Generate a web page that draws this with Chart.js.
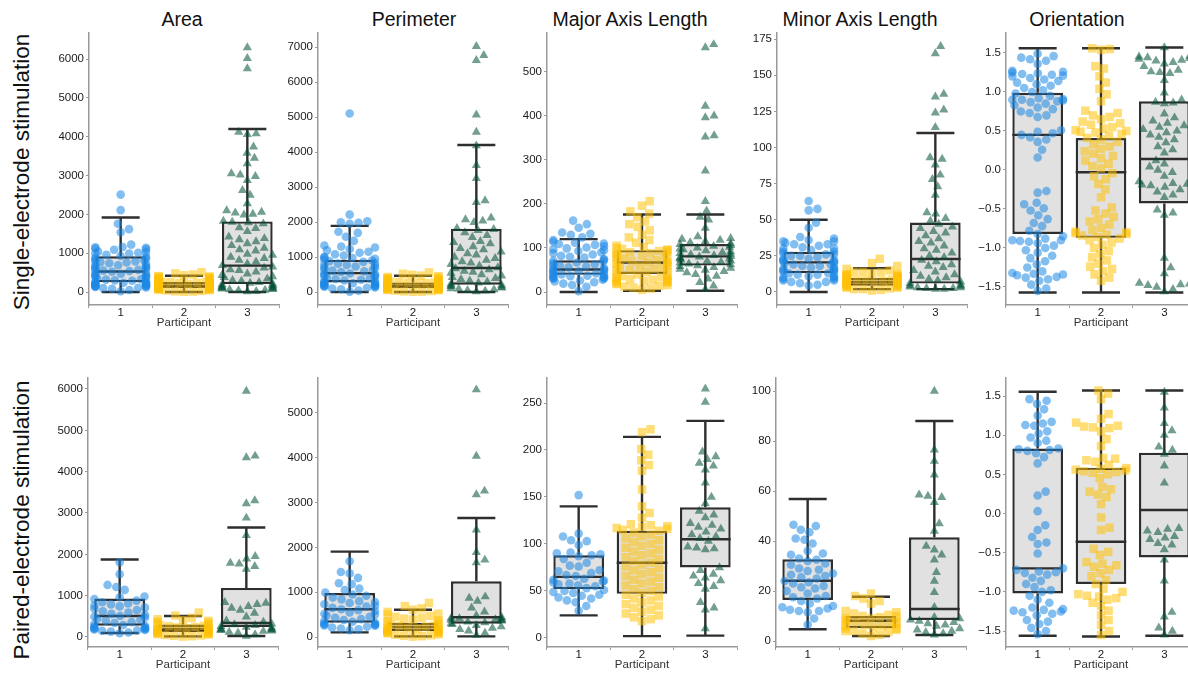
<!DOCTYPE html>
<html>
<head>
<meta charset="utf-8">
<script src="https://cdn.jsdelivr.net/npm/chart.js@4.4.1/dist/chart.umd.min.js"></script>
<style>
  html, body { margin: 0; padding: 0; background: #fff; width: 1188px; height: 673px; overflow: hidden; }
  canvas { position: absolute; }
  .coltitle { position: absolute; top: 8px; font-family: 'Liberation Sans', Arial, sans-serif; font-size: 19.5px; line-height: 23px; color: #111; white-space: nowrap; transform: translateX(-50%); }
  .rowtitle { position: absolute; font-family: 'Liberation Sans', Arial, sans-serif; font-size: 22.5px; line-height: 26px; color: #111; white-space: nowrap; transform: translate(-50%, -50%) rotate(-90deg); }
</style>
</head>
<body>
<script>
const participants = [1, 2, 3];
const columnTitles = ['Area', 'Perimeter', 'Major Axis Length', 'Minor Axis Length', 'Orientation'];
const rowTitles = ['Single-electrode stimulation', 'Paired-electrode stimulation'];

// y tick values per panel
const areaTicksSingle = [0, 1000, 2000, 3000, 4000, 5000, 6000];
const perimeterTicksSingle = [0, 1000, 2000, 3000, 4000, 5000, 6000, 7000];
const majorTicksSingle = [0, 100, 200, 300, 400, 500];
const minorTicksSingle = [0, 25, 50, 75, 100, 125, 150, 175];
const orientTicks = [-1.5, -1.0, -0.5, 0.0, 0.5, 1.0, 1.5];
const areaTicksPaired = [0, 1000, 2000, 3000, 4000, 5000, 6000];
const perimeterTicksPaired = [0, 1000, 2000, 3000, 4000, 5000];
const majorTicksPaired = [0, 50, 100, 150, 200, 250];
const minorTicksPaired = [0, 20, 40, 60, 80, 100];

// box stats per participant: [lower whisker, q1, median, q3, upper whisker]
const singleAreaBox = [[0, 250, 530, 920, 1920], [0, 100, 160, 260, 420], [0, 205, 680, 1820, 4200]];
const singlePerimeterBox = [[0, 275, 540, 925, 1890], [0, 105, 180, 275, 465], [0, 210, 685, 1810, 4200]];
const singleMajorBox = [[0, 39, 51, 72, 120], [3, 41, 67, 95, 176], [3, 60, 81, 109, 176]];
const singleMinorBox = [[0, 12.9, 20.5, 27.9, 50], [2, 4.4, 6.9, 9.7, 16.4], [2, 5.8, 22.8, 48.1, 110]];
const singleOrientBox = [[-1.57, -0.82, 0.45, 0.99, 1.56], [-1.57, -0.87, -0.03, 0.41, 1.56], [-1.57, -0.43, 0.14, 0.88, 1.57]];
const pairedAreaBox = [[97, 275, 509, 929, 1874], [16, 121, 194, 300, 509], [24, 240, 340, 1187, 2650]];
const pairedPerimeterBox = [[104, 320, 618, 982, 1905], [15, 134, 223, 320, 610], [15, 298, 440, 1243, 2656]];
const pairedMajorBox = [[24, 52, 65, 88, 140], [2, 47, 80, 114, 214], [2.5, 75, 105, 139, 231]];
const pairedMinorBox = [[4.7, 16.4, 24.1, 32.7, 56.8], [2, 5.1, 8.1, 10, 17.7], [2.4, 8.4, 12.8, 41.5, 88]];
const pairedOrientBox = [[-1.56, -1.02, -0.70, 0.83, 1.555], [-1.57, -0.90, -0.36, 0.585, 1.57], [-1.56, -0.56, 0.045, 0.777, 1.57]];

// single-electrode, individual values
const singleAreaP1 = [2510, 2110, 1760, 1620, 1540, 1220, 1160, 1150, 1140, 1120, 1100, 1090, 1040, 1020, 1010, 1000, 990, 960, 930, 900, 880, 860, 850, 820, 800, 790, 770, 760, 740, 720, 700, 690, 670, 650, 630, 620, 600, 590, 570, 550, 540, 520, 500, 490, 470, 450, 430, 420, 400, 380, 370, 350, 330, 320, 300, 290, 270, 260, 250, 240, 230, 220, 210, 200, 190, 180, 170, 160, 150, 150, 140, 130, 120, 110, 100, 80, 50, 20];
const singleAreaP2 = [510, 480, 450, 430, 410, 400, 390, 380, 360, 350, 340, 330, 320, 310, 300, 290, 280, 270, 265, 260, 250, 240, 235, 230, 220, 210, 205, 200, 190, 185, 180, 175, 170, 165, 160, 155, 150, 145, 140, 135, 130, 125, 120, 115, 110, 105, 100, 95, 90, 85, 80, 75, 70, 60, 50, 40, 30, 20, 10, 5];
const singleAreaP3 = [6300, 6020, 5760, 4120, 4080, 4060, 3740, 3580, 3450, 3310, 3050, 3020, 2980, 2880, 2620, 2500, 2280, 2100, 2060, 2040, 2010, 1990, 1830, 1800, 1790, 1760, 1660, 1640, 1560, 1420, 1380, 1350, 1300, 1250, 1200, 1130, 1090, 1060, 980, 950, 900, 870, 820, 780, 730, 690, 650, 620, 580, 560, 520, 470, 430, 400, 380, 340, 300, 280, 250, 230, 210, 190, 170, 150, 140, 120, 110, 100, 90, 80, 70, 60, 50, 40, 20, 10];

const singlePerimeterP1 = [5100, 2210, 2020, 1990, 1980, 1950, 1720, 1690, 1580, 1460, 1330, 1300, 1270, 1230, 1190, 1150, 1120, 1080, 1040, 1000, 990, 970, 950, 930, 900, 880, 860, 830, 810, 790, 770, 750, 730, 700, 680, 660, 640, 610, 590, 570, 550, 530, 500, 490, 470, 450, 430, 410, 390, 370, 350, 330, 310, 300, 280, 260, 250, 240, 220, 210, 200, 190, 180, 170, 160, 150, 130, 120, 100, 80, 40, 10];
const singlePerimeterP2 = [560, 520, 490, 470, 450, 430, 410, 400, 380, 370, 350, 340, 320, 310, 300, 290, 280, 270, 260, 250, 240, 230, 220, 215, 205, 200, 190, 185, 175, 170, 165, 155, 150, 145, 140, 130, 125, 120, 110, 105, 100, 90, 85, 80, 70, 60, 50, 40, 30, 20, 10, 5];
const singlePerimeterP3 = [7020, 6760, 6620, 5060, 4570, 4180, 3620, 3250, 2610, 2560, 2120, 2070, 2030, 1990, 1820, 1790, 1760, 1700, 1620, 1560, 1450, 1420, 1380, 1300, 1250, 1210, 1150, 1100, 1060, 1000, 960, 910, 870, 830, 790, 750, 700, 670, 640, 600, 570, 540, 500, 460, 420, 390, 360, 320, 290, 260, 230, 200, 180, 160, 140, 120, 100, 90, 70, 50, 30, 10];

const singleMajorP1 = [162, 154, 146, 135, 132, 130, 124, 118, 114, 112, 110, 109, 107, 104, 101, 99, 97, 95, 93, 90, 88, 85, 82, 80, 78, 75, 73, 71, 69, 67, 65, 63, 61, 60, 58, 56, 54, 53, 51, 50, 48, 47, 45, 44, 42, 41, 40, 38, 37, 36, 35, 34, 33, 32, 31, 30, 28, 26, 24, 22, 19, 16, 12, 2];
const singleMajorP2 = [206, 196, 183, 178, 170, 160, 154, 148, 140, 130, 124, 118, 112, 105, 102, 100, 98, 96, 95, 93, 91, 90, 88, 86, 84, 82, 80, 78, 76, 74, 72, 70, 68, 67, 65, 63, 61, 60, 58, 56, 54, 52, 50, 48, 46, 44, 42, 40, 38, 36, 34, 32, 30, 29, 28, 27, 26, 25, 24, 23, 22, 20, 18, 16, 14, 12, 10, 8, 5];
const singleMajorP3 = [562, 555, 422, 400, 396, 355, 352, 275, 206, 184, 170, 164, 145, 126, 122, 120, 118, 115, 112, 110, 108, 106, 104, 102, 100, 98, 96, 94, 92, 90, 88, 86, 85, 83, 81, 80, 78, 76, 75, 73, 71, 70, 68, 66, 64, 62, 60, 58, 56, 54, 52, 50, 47, 44, 40, 36, 30, 22, 14, 6];

const singleMinorP1 = [63, 57.5, 56.5, 48, 44.5, 38, 37, 36, 35, 35, 34, 33, 33, 32, 31, 30, 30, 29, 28, 28, 27, 26, 26, 25, 25, 24, 23, 23, 22, 22, 21, 21, 20, 20, 19, 19, 18, 18, 17, 17, 16, 16, 15, 15, 14, 14, 13, 13, 12, 12, 11, 11, 10, 10, 9, 9, 8, 8, 7, 7, 6, 5, 4.5];
const singleMinorP2 = [23, 20, 18, 16, 15, 14, 14, 13.5, 13, 12.5, 12, 12, 11.5, 11, 11, 10.5, 10, 10, 9.5, 9, 9, 8.5, 8, 8, 7.5, 7, 7, 6.5, 6, 6, 5.5, 5, 5, 4.5, 4, 4, 3.5, 3, 3, 2.5, 2, 2, 1.5, 1];
const singleMinorP3 = [170, 165, 137, 135, 126, 124, 114, 93, 92, 88, 81, 78, 73, 67, 55, 54, 51, 49, 47, 45, 44, 42, 41, 39, 37, 35, 34, 32, 30, 29, 27, 25, 24, 22, 21, 19, 18, 17, 15, 14, 12, 11, 10, 9, 8, 7, 6, 5, 4.5, 4, 3.5, 3, 3, 2.5, 2.5, 2, 2];

const singleOrientP1 = [1.49, 1.46, 1.44, 1.42, 1.40, 1.36, 1.27, 1.26, 1.25, 1.24, 1.23, 1.22, 1.21, 1.20, 1.18, 1.16, 1.14, 1.12, 1.10, 1.08, 1.05, 1.02, 1.00, 0.98, 0.95, 0.92, 0.91, 0.90, 0.90, 0.89, 0.88, 0.87, 0.85, 0.83, 0.80, 0.78, 0.75, 0.73, 0.70, 0.68, 0.51, 0.49, 0.47, 0.45, 0.42, 0.39, 0.36, 0.26, 0.16, -0.27, -0.29, -0.42, -0.44, -0.49, -0.52, -0.58, -0.63, -0.68, -0.72, -0.78, -0.82, -0.85, -0.88, -0.90, -0.90, -0.91, -0.92, -0.94, -0.97, -1.00, -1.03, -1.06, -1.10, -1.13, -1.17, -1.21, -1.25, -1.30, -1.32, -1.33, -1.34, -1.35, -1.37, -1.38, -1.40, -1.42, -1.47, -1.52, -1.55];
const singleOrientP2 = [1.56, 1.55, 1.54, 1.33, 1.30, 1.20, 1.12, 1.04, 0.97, 0.88, 0.76, 0.73, 0.70, 0.68, 0.65, 0.62, 0.60, 0.58, 0.55, 0.53, 0.51, 0.50, 0.49, 0.48, 0.46, 0.44, 0.41, 0.39, 0.36, 0.33, 0.30, 0.27, 0.24, 0.21, 0.18, 0.15, 0.12, 0.08, 0.05, 0.02, -0.04, -0.08, -0.12, -0.18, -0.25, -0.35, -0.48, -0.52, -0.56, -0.60, -0.63, -0.66, -0.70, -0.74, -0.77, -0.79, -0.80, -0.81, -0.82, -0.83, -0.84, -0.86, -0.88, -0.90, -0.93, -0.96, -1.00, -1.04, -1.08, -1.12, -1.16, -1.20, -1.24, -1.27, -1.30, -1.34, -1.38, -1.42];
const singleOrientP3 = [1.57, 1.46, 1.45, 1.44, 1.43, 1.42, 1.41, 1.40, 1.38, 1.36, 1.33, 1.28, 1.26, 1.25, 1.24, 1.15, 0.99, 0.90, 0.87, 0.86, 0.85, 0.72, 0.67, 0.63, 0.60, 0.57, 0.55, 0.52, 0.50, 0.48, 0.45, 0.42, 0.39, 0.35, 0.30, 0.26, 0.22, 0.12, 0.08, 0.04, 0.00, -0.03, -0.08, -0.15, -0.17, -0.18, -0.19, -0.20, -0.22, -0.25, -0.28, -0.32, -0.35, -0.51, -0.55, -0.58, -1.13, -1.25, -1.33, -1.45, -1.46, -1.47, -1.48, -1.50, -1.53, -1.56];

// paired-electrode, individual values
const pairedAreaP1 = [1810, 1520, 1260, 1210, 1140, 980, 960, 920, 880, 840, 810, 790, 760, 740, 710, 680, 650, 620, 590, 560, 530, 510, 490, 470, 440, 410, 390, 360, 340, 310, 290, 270, 250, 230, 220, 210, 200, 190, 180, 170, 160, 150, 130, 110, 90];
const pairedAreaP2 = [590, 520, 460, 430, 410, 390, 370, 350, 330, 310, 290, 270, 260, 240, 230, 210, 200, 190, 180, 170, 160, 150, 140, 130, 120, 110, 100, 90, 80, 70, 60, 50, 40, 30, 20, 10];
const pairedAreaP3 = [5950, 4380, 4340, 3300, 3230, 2880, 2460, 1950, 1890, 1790, 1770, 1710, 1640, 840, 820, 790, 740, 700, 650, 580, 490, 390, 360, 320, 300, 280, 260, 240, 220, 200, 190, 180, 170, 160, 150, 140, 120, 100, 60, 20];

const pairedPerimeterP1 = [1690, 1450, 1420, 1320, 1200, 1180, 1080, 1050, 990, 950, 920, 880, 840, 800, 780, 760, 730, 700, 680, 650, 620, 600, 580, 550, 520, 500, 480, 450, 430, 400, 380, 360, 340, 320, 300, 290, 280, 270, 260, 250, 230, 210, 190, 170, 150];
const pairedPerimeterP2 = [760, 690, 640, 610, 560, 520, 500, 470, 450, 430, 410, 390, 370, 350, 330, 310, 290, 270, 250, 240, 230, 210, 200, 190, 180, 170, 160, 150, 140, 130, 120, 110, 100, 90, 80, 60, 50, 40, 30, 20, 10];
const pairedPerimeterP3 = [5520, 4040, 3260, 3180, 2390, 1890, 1720, 1660, 900, 870, 800, 650, 560, 480, 440, 420, 410, 400, 390, 380, 370, 360, 340, 320, 300, 280, 260, 230, 200, 170, 140, 90, 40];

const pairedMajorP1 = [152, 111, 108, 104, 103, 99, 91, 90, 89, 88, 87, 84, 80, 77, 76, 72, 71, 69, 67, 66, 63, 62, 61, 60, 59, 58, 57, 56, 55, 53, 51, 50, 49, 48, 46, 45, 43, 42, 40, 38, 34, 29];
const pairedMajorP2 = [222, 219, 201, 195, 189, 184, 178, 158, 140, 133, 128, 121, 120, 119, 118, 117, 116, 115, 114, 112, 110, 108, 106, 104, 102, 100, 98, 96, 94, 92, 90, 88, 86, 84, 82, 80, 78, 76, 74, 72, 70, 68, 66, 64, 62, 60, 58, 56, 54, 52, 50, 48, 46, 44, 42, 40, 38, 36, 34, 32, 30, 28, 26, 24, 22, 20, 18];
const pairedMajorP3 = [265, 251, 198, 193, 190, 186, 183, 179, 165, 150, 143, 135, 131, 128, 122, 120, 118, 116, 113, 110, 108, 106, 103, 97, 96, 95, 94, 75, 72, 68, 66, 64, 61, 58, 55, 52, 38, 32, 30, 10];

const pairedMinorP1 = [46.5, 46, 44.5, 43.5, 41, 40.5, 39, 36, 35, 34.5, 33, 32.5, 32, 31, 30.5, 29, 28.5, 28, 27, 26.5, 26, 25.5, 25, 24, 23.5, 23, 22, 21.5, 21, 20, 19, 18, 17.5, 17, 16, 15, 14, 13.5, 13, 12.5, 12, 12, 11.5, 9, 6.5];
const pairedMinorP2 = [19, 18, 17, 16, 15, 12, 11.5, 11, 10.5, 10, 10, 9.5, 9, 9, 8.5, 8, 8, 7.5, 7, 7, 6.5, 6, 6, 5.5, 5, 5, 4.5, 4, 4, 3.5, 3, 2.5, 2];
const pairedMinorP3 = [100, 76.5, 72, 66.5, 58.5, 58, 57.5, 55.5, 47, 44, 38, 36.5, 34.5, 32.5, 27.5, 24, 19.5, 13.5, 9.5, 9, 8.5, 8, 7.5, 7, 6.5, 6, 5, 4.5, 4, 3.5, 3, 2.5];

const pairedOrientP1 = [1.46, 1.44, 1.40, 1.33, 1.25, 1.17, 1.15, 1.13, 1.12, 1.05, 1.02, 0.97, 0.93, 0.90, 0.83, 0.82, 0.81, 0.80, 0.77, 0.72, 0.64, 0.28, 0.23, 0.03, -0.15, -0.21, -0.30, -0.37, -0.39, -0.51, -0.70, -0.72, -0.74, -0.75, -0.76, -0.78, -0.82, -0.86, -0.90, -0.94, -0.98, -1.00, -1.05, -1.10, -1.14, -1.20, -1.22, -1.23, -1.24, -1.25, -1.26, -1.28, -1.30, -1.36, -1.38, -1.41, -1.46, -1.50, -1.54];
const pairedOrientP2 = [1.57, 1.53, 1.46, 1.27, 1.21, 1.16, 1.12, 1.11, 1.10, 1.09, 1.05, 0.95, 0.86, 0.71, 0.70, 0.68, 0.66, 0.62, 0.58, 0.57, 0.56, 0.55, 0.54, 0.53, 0.52, 0.50, 0.45, 0.34, 0.31, 0.28, 0.24, 0.21, 0.12, -0.05, -0.18, -0.21, -0.45, -0.49, -0.53, -0.62, -0.64, -0.66, -0.68, -0.72, -0.76, -0.80, -0.85, -0.90, -0.96, -1.00, -1.03, -1.05, -1.06, -1.08, -1.10, -1.14, -1.18, -1.24, -1.30, -1.36, -1.42, -1.50, -1.55];
const pairedOrientP3 = [1.55, 1.35, 1.15, 1.06, 1.00, 0.85, 0.81, 0.76, 0.61, 0.39, -0.19, -0.20, -0.22, -0.24, -0.29, -0.31, -0.33, -0.38, -0.40, -0.46, -0.59, -0.86, -1.26, -1.32, -1.46, -1.50, -1.55];

const pointColors = ['rgba(30, 136, 229, 0.55)', 'rgba(255, 193, 7, 0.55)', 'rgba(0, 80, 55, 0.55)'];
const pointStyles = ['circle', 'rect', 'triangle'];
const pointRadii = [4.3, 6, 5.3];

const narrow = "'Liberation Sans Narrow', 'Liberation Sans', Arial, sans-serif";
const ink = '#2e2e2e';

const panels = [
  { row: 0, axisX: 89,   ticks: areaTicksSingle,      min: -335,   max: 6675,  box: singleAreaBox,      vals: [singleAreaP1, singleAreaP2, singleAreaP3] },
  { row: 0, axisX: 318,  ticks: perimeterTicksSingle, min: -371,   max: 7400,  box: singlePerimeterBox, vals: [singlePerimeterP1, singlePerimeterP2, singlePerimeterP3] },
  { row: 0, axisX: 547,  ticks: majorTicksSingle,     min: -29.5,  max: 588,   box: singleMajorBox,     vals: [singleMajorP1, singleMajorP2, singleMajorP3] },
  { row: 0, axisX: 777,  ticks: minorTicksSingle,     min: -9,     max: 179.2, box: singleMinorBox,     vals: [singleMinorP1, singleMinorP2, singleMinorP3] },
  { row: 0, axisX: 1006, ticks: orientTicks,          min: -1.731, max: 1.756, box: singleOrientBox,    vals: [singleOrientP1, singleOrientP2, singleOrientP3], dec: 1 },
  { row: 1, axisX: 88,   ticks: areaTicksPaired,      min: -242,   max: 6266,  box: pairedAreaBox,      vals: [pairedAreaP1, pairedAreaP2, pairedAreaP3] },
  { row: 1, axisX: 318,  ticks: perimeterTicksPaired, min: -223,   max: 5781,  box: pairedPerimeterBox, vals: [pairedPerimeterP1, pairedPerimeterP2, pairedPerimeterP3] },
  { row: 1, axisX: 547,  ticks: majorTicksPaired,     min: -9.6,   max: 276.6, box: pairedMajorBox,     vals: [pairedMajorP1, pairedMajorP2, pairedMajorP3] },
  { row: 1, axisX: 776,  ticks: minorTicksPaired,     min: -2.4,   max: 105.2, box: pairedMinorBox,     vals: [pairedMinorP1, pairedMinorP2, pairedMinorP3] },
  { row: 1, axisX: 1006, ticks: orientTicks,          min: -1.704, max: 1.730, box: pairedOrientBox,    vals: [pairedOrientP1, pairedOrientP2, pairedOrientP3], dec: 1 }
];

// canvas geometry: y axis 45px wide, 192px plot, x axis 25px tall
const yAxisW = 45, plotW = 192, padTop = 9, xAxisH = 25;
const rowTop = [33, 378];
const rowPlotH = [272, 269];

function swarm(chart, values, center) {
  const xs = chart.scales.x, ys = chart.scales.y;
  const unit = xs.getPixelForValue(center + 1) - xs.getPixelForValue(center);
  const half = 0.4 * unit;
  const d = 9;
  const pts = values.map(v => ({ v: v, py: ys.getPixelForValue(v), px: 0 })).sort((a, b) => a.v - b.v);
  const placed = [];
  pts.forEach(p => {
    const near = placed.filter(q => Math.abs(q.py - p.py) < d);
    const cands = [0];
    near.forEach(q => {
      const dx = Math.sqrt(d * d - (q.py - p.py) ** 2);
      cands.push(q.px + dx, q.px - dx);
    });
    cands.sort((a, b) => Math.abs(a) - Math.abs(b));
    const ok = cands.find(c => near.every(q => (q.px - c) ** 2 + (q.py - p.py) ** 2 >= d * d - 0.01));
    p.px = ok === undefined ? cands[cands.length - 1] : ok;
    placed.push(p);
  });
  return pts.map(p => ({ x: center + Math.max(-half, Math.min(half, p.px)) / unit, y: p.v }));
}

function boxLines(box) {
  const out = [];
  const cap = 0.3;
  box.forEach((b, i) => {
    const p = participants[i];
    const [lo, q1, med, q3, hi] = b;
    out.push({ x: p, y: lo }, { x: p, y: q1 }, { x: p, y: null },
             { x: p, y: q3 }, { x: p, y: hi }, { x: p, y: null },
             { x: p - cap, y: lo }, { x: p + cap, y: lo }, { x: p, y: null },
             { x: p - cap, y: hi }, { x: p + cap, y: hi }, { x: p, y: null },
             { x: p - 0.4, y: med }, { x: p + 0.4, y: med }, { x: p, y: null });
  });
  return out;
}

columnTitles.forEach((t, i) => {
  const div = document.createElement('div');
  div.className = 'coltitle';
  div.textContent = t;
  div.style.left = [182, 414, 630, 860, 1077][i] + 'px';
  document.body.appendChild(div);
});
rowTitles.forEach((t, i) => {
  const div = document.createElement('div');
  div.className = 'rowtitle';
  div.textContent = t;
  div.style.left = '22px';
  div.style.top = [172, 520][i] + 'px';
  document.body.appendChild(div);
});

panels.forEach(cfg => {
  const canvas = document.createElement('canvas');
  canvas.width = yAxisW + plotW + 4;
  canvas.height = padTop + rowPlotH[cfg.row] + xAxisH;
  canvas.style.left = (cfg.axisX - yAxisW) + 'px';
  canvas.style.top = (rowTop[cfg.row] - padTop) + 'px';
  document.body.appendChild(canvas);

  const pointSets = cfg.vals.map((v, i) => ({
    type: 'scatter',
    data: [],
    pointStyle: pointStyles[i],
    pointRadius: pointRadii[i],
    pointBackgroundColor: pointColors[i],
    pointBorderWidth: 0,
    order: 0
  }));

  const chart = new Chart(canvas, {
    type: 'bar',
    data: {
      datasets: [
        {
          type: 'bar',
          data: cfg.box.map((b, i) => ({ x: participants[i], y: [b[1], b[3]] })),
          backgroundColor: '#e1e1e1',
          borderColor: ink,
          borderWidth: 2.4,
          borderSkipped: false,
          barPercentage: 1,
          categoryPercentage: 0.8,
          order: 3
        },
        {
          type: 'line',
          data: boxLines(cfg.box),
          borderColor: ink,
          borderWidth: 2.4,
          pointRadius: 0,
          spanGaps: false,
          order: 2
        },
        ...pointSets
      ]
    },
    options: {
      responsive: false,
      animation: false,
      devicePixelRatio: 1,
      events: [],
      layout: { padding: { top: padTop, right: 4, left: 0, bottom: 0 } },
      plugins: { legend: { display: false }, tooltip: { enabled: false } },
      scales: {
        x: {
          type: 'linear',
          min: 0.5,
          max: 3.5,
          offset: false,
          afterFit: s => { s.height = xAxisH; },
          afterBuildTicks: s => { s.ticks = participants.map(v => ({ value: v })); },
          grid: { drawOnChartArea: false, drawTicks: true, tickLength: 3, color: '#999' },
          border: { color: '#999', width: 1.5 },
          ticks: { padding: -2, color: '#1a1a1a', font: { family: narrow, size: 11.5 }, callback: v => String(v) },
          title: { display: true, text: 'Participant', color: '#333', padding: 0, font: { family: narrow, size: 11.5 } }
        },
        y: {
          type: 'linear',
          min: cfg.min,
          max: cfg.max,
          afterFit: s => { s.width = yAxisW; },
          afterBuildTicks: s => { s.ticks = cfg.ticks.map(v => ({ value: v })); },
          grid: { drawOnChartArea: false, drawTicks: true, tickLength: 3, color: '#999' },
          border: { color: '#999', width: 1.5 },
          ticks: {
            padding: 2,
            color: '#1a1a1a',
            font: { family: narrow, size: 11.5 },
            callback: v => cfg.dec ? v.toFixed(1).replace('-', '\u2212') : String(v)
          }
        }
      }
    }
  });

  cfg.vals.forEach((v, i) => {
    chart.data.datasets[2 + i].data = swarm(chart, v, participants[i]);
  });
  chart.update('none');
});
</script>
</body>
</html>
